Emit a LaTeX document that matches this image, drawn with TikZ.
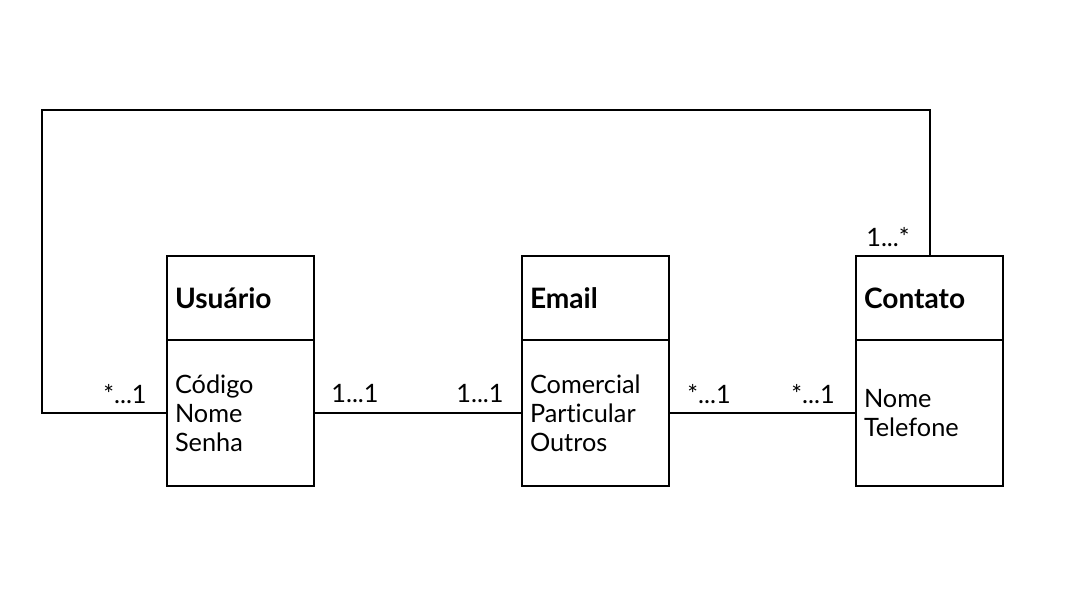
\documentclass[tikz,border=0pt]{standalone}
\usepackage{fontspec}
\setmainfont{Lato}[Ligatures=NoCommon]
\usetikzlibrary{positioning}

\begin{document}
\begin{tikzpicture}[
    x=0.025cm, y=-0.025cm, % one unit = one pixel of the drawing
    % Define class header style
    class head/.style={
        draw, % Draw border
        rectangle,
        line width=1.4pt,
        outer sep=0pt,
        anchor=north west,
        text width=3.275cm,
        inner xsep=0.2cm,
        minimum height=2.1cm,
        align=left,
        font=\bfseries\fontsize{20}{24}\selectfont
      },
    % Define class body style
    class body/.style={
        draw,
        rectangle,
        line width=1.4pt,
        outer sep=0pt,
        anchor=north,
        text width=3.275cm,
        inner xsep=0.2cm,
        minimum height=3.65cm,
        align=left,
        font=\fontsize{18}{20.5}\selectfont
      },
    % Multiplicity labels
    mult/.style={font=\fontsize{18}{20}\selectfont, inner sep=0pt},
    line width=1.4pt
  ]

  \useasboundingbox (0,0) rectangle (1080,604);

  % Classes
  \node[class head] (UsuarioHead) at (167,256) {Usuário};
  \node[class body] (UsuarioBody) at (UsuarioHead.south) {Código\\Nome\\Senha};

  \node[class head] (EmailHead) at (522,256) {Email};
  \node[class body] (EmailBody) at (EmailHead.south) {Comercial\\Particular\\Outros};

  \node[class head] (ContatoHead) at (856,256) {Contato};
  \node[class body] (ContatoBody) at (ContatoHead.south) {Nome\\Telefone};

  % Associations
  \draw (UsuarioBody.east) -- (EmailBody.west);
  \draw (EmailBody.east) -- (ContatoBody.west);

  % Loop from Usuario to Contato
  \coordinate (loopTop) at (42,110);
  \draw (UsuarioBody.west) -| (loopTop) -| (ContatoHead.north);

  % Multiplicities
  \node[mult] (mUsrLoop) at (125,394) {*...1};
  \node[mult] (mUsrEmail) at (355,394) {1...1};
  \node[mult] (mEmailUsr) at (480,394) {1...1};
  \node[mult] (mEmailCt) at (709,394) {*...1};
  \node[mult] (mCtEmail) at (813,394) {*...1};
  \node[mult] (mCtLoop) at (888,237) {1...*};

\end{tikzpicture}
\end{document}
